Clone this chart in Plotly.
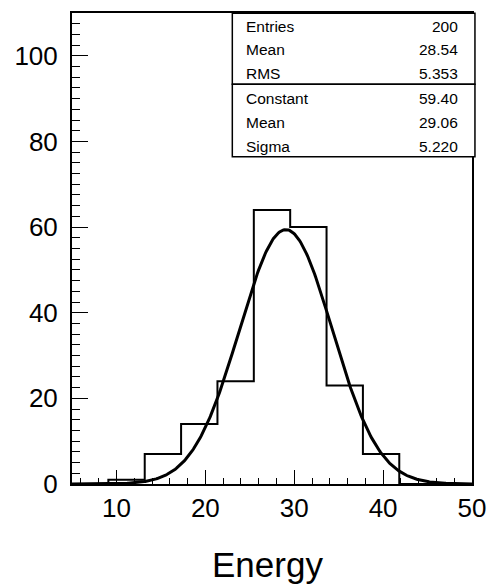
import numpy as np
import plotly.graph_objects as go

# Histogram definition (11 bins from 5 to 50)
x_min = 5.0
x_max = 50.0
n_bins = 11
counts = [0, 1, 7, 14, 24, 64, 60, 23, 7, 0, 0]

# Gaussian fit parameters
fit_constant = 59.40
fit_mean = 29.06
fit_sigma = 5.220

# Stats box texts
stats_top_labels = ["Entries", "Mean", "RMS"]
stats_top_values = ["200", "28.54", "5.353"]
stats_fit_labels = ["Constant", "Mean", "Sigma"]
stats_fit_values = ["59.40", "29.06", "5.220"]

x_title = "Energy"

edges = np.linspace(x_min, x_max, n_bins + 1)
step_y = list(counts) + [counts[-1]]

xf = np.linspace(x_min, x_max, 400)
yf = fit_constant * np.exp(-0.5 * ((xf - fit_mean) / fit_sigma) ** 2)

W, H = 497, 588
L, R, T, B = 72, 478.7, 10.7, 484.3
pw, ph = R - L, B - T

def px(xp):
    return (xp - L) / pw

def py(yp):
    return (B - yp) / ph

fig = go.Figure()
fig.add_trace(go.Scatter(x=edges, y=step_y, mode="lines", line_shape="hv",
                         line=dict(color="black", width=2), hoverinfo="skip"))
fig.add_trace(go.Scatter(x=xf, y=yf, mode="lines",
                         line=dict(color="black", width=3), hoverinfo="skip"))

font = "Liberation Sans, Arial, Helvetica, sans-serif"

fig.update_layout(
    width=W, height=H,
    margin=dict(l=L, r=W - R, t=T, b=H - B),
    paper_bgcolor="white", plot_bgcolor="white",
    showlegend=False,
    font=dict(family=font, color="black"),
    xaxis=dict(range=[x_min, x_max], tick0=0, dtick=10, ticks="inside", ticklen=14,
               tickwidth=1, tickcolor="black", showgrid=False, zeroline=False,
               showline=True, linecolor="black", linewidth=2, mirror=True,
               tickfont=dict(size=26, family=font), ticklabelstandoff=0,
               minor=dict(ticks="inside", ticklen=6, dtick=2, tick0=0, tickcolor="black",
                          showgrid=False)),
    yaxis=dict(range=[0, 110], tick0=0, dtick=20, ticks="inside", ticklen=16,
               tickwidth=1, tickcolor="black", showgrid=False, zeroline=False,
               showline=True, linecolor="black", linewidth=2, mirror=True,
               tickfont=dict(size=26, family=font), ticklabelstandoff=7,
               minor=dict(ticks="inside", ticklen=8, dtick=2.5, tick0=0, tickcolor="black",
                          showgrid=False)),
)

# Stats box
bx0, bx1 = px(235), px(481.7)
by_top, by_mid, by_bot = py(11), py(82.3), py(155.3)
fig.add_shape(type="rect", xref="paper", yref="paper", x0=bx0, x1=bx1, y0=by_mid, y1=by_top,
              fillcolor="white", line=dict(color="black", width=1.5), layer="above")
fig.add_shape(type="rect", xref="paper", yref="paper", x0=bx0, x1=bx1, y0=by_bot, y1=by_mid,
              fillcolor="white", line=dict(color="black", width=1.5), layer="above")

row_y = [24, 47.7, 71.7, 97, 121.3, 145]
labels = stats_top_labels + stats_fit_labels
values = stats_top_values + stats_fit_values
for lab, val, yy in zip(labels, values, row_y):
    fig.add_annotation(x=px(247.3), y=py(yy), xref="paper", yref="paper", text=lab,
                       showarrow=False, xanchor="left", yanchor="middle",
                       font=dict(size=15.5, family=font, color="black"))
    fig.add_annotation(x=px(466), y=py(yy), xref="paper", yref="paper", text=val,
                       showarrow=False, xanchor="right", yanchor="middle",
                       font=dict(size=15.5, family=font, color="black"))

fig.add_annotation(x=px(271), y=py(565), xref="paper", yref="paper", text=x_title,
                   showarrow=False, xanchor="center", yanchor="middle",
                   font=dict(size=35, family=font, color="black"))

fig.write_html("out.html")
